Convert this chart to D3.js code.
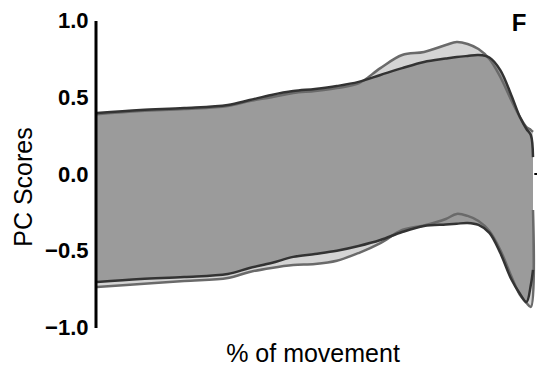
<!DOCTYPE html>
<html lang="en">
<head>
  <meta charset="UTF-8">
  <title>PC Scores F</title>
  <script src="https://d3js.org/d3.v7.min.js"></script>
  <style>
    body { margin: 0; background: #fff; }
    text { font-family: "Liberation Sans", Arial, sans-serif; }
  </style>
</head>
<body>
  <script>
    // % of movement sample points
    var pct = [0, 10, 20, 30, 35, 40, 45, 50, 55, 60, 65, 70, 75, 80, 82.5, 85, 87.5, 90, 92.5, 95, 97, 98.5, 99.5, 100];

    // dark band (upper / lower)
    var darkUpper = [0.397, 0.417, 0.43, 0.45, 0.482, 0.515, 0.54, 0.554, 0.573, 0.60, 0.645, 0.69, 0.73, 0.752, 0.762, 0.769, 0.775, 0.759, 0.677, 0.515, 0.371, 0.293, 0.254, 0.11];
    var darkLower = [-0.704, -0.684, -0.671, -0.651, -0.612, -0.58, -0.54, -0.521, -0.50, -0.469, -0.43, -0.378, -0.339, -0.329, -0.324, -0.319, -0.332, -0.384, -0.515, -0.684, -0.78, -0.834, -0.723, -0.625];

    // light band (upper / lower)
    var lightUpper = [0.39, 0.41, 0.423, 0.443, 0.475, 0.50, 0.528, 0.541, 0.56, 0.59, 0.69, 0.775, 0.795, 0.84, 0.86, 0.847, 0.814, 0.749, 0.632, 0.482, 0.371, 0.306, 0.287, 0.274];
    var lightLower = [-0.736, -0.717, -0.697, -0.678, -0.638, -0.612, -0.593, -0.586, -0.565, -0.515, -0.45, -0.365, -0.335, -0.293, -0.26, -0.273, -0.306, -0.371, -0.495, -0.664, -0.788, -0.84, -0.866, -0.235];

    var yTicks = [1.0, 0.5, 0.0, -0.5, -1.0];

    var W = 537, H = 370;
    var x = d3.scaleLinear().domain([0, 100]).range([97, 533]);
    var y = d3.scaleLinear().domain([-1, 1]).range([327.5, 20.5]);

    var svg = d3.select("body").append("svg")
      .attr("width", W)
      .attr("height", H);

    var curve = d3.curveCatmullRom.alpha(0.5);

    function band(up, lo) {
      return d3.area()
        .x(function (d, i) { return x(pct[i]); })
        .y0(function (d, i) { return y(lo[i]); })
        .y1(function (d, i) { return y(up[i]); })
        .curve(curve)(pct);
    }
    var line = d3.line()
      .x(function (d, i) { return x(pct[i]); })
      .y(function (d) { return y(d); })
      .curve(curve);

    // fills
    svg.append("path").attr("d", band(lightUpper, lightLower)).attr("fill", "#d4d4d4");
    svg.append("path").attr("d", band(darkUpper, darkLower)).attr("fill", "#9b9b9b");

    // outlines
    [lightUpper, lightLower].forEach(function (s) {
      svg.append("path").datum(s).attr("d", line)
        .attr("fill", "none").attr("stroke", "#6a6a6a").attr("stroke-width", 2.5);
    });
    [darkUpper, darkLower].forEach(function (s) {
      svg.append("path").datum(s).attr("d", line)
        .attr("fill", "none").attr("stroke", "#333").attr("stroke-width", 2.5);
    });

    // small zero mark at the right edge
    svg.append("line")
      .attr("x1", x(100.3)).attr("x2", x(101))
      .attr("y1", y(0)).attr("y2", y(0))
      .attr("stroke", "#000").attr("stroke-width", 2);

    // y axis
    var yAxis = svg.append("g")
      .attr("transform", "translate(95.5,0)")
      .call(d3.axisLeft(y).tickValues(yTicks).tickSize(0).tickPadding(7)
        .tickFormat(d3.format(".1f")));
    yAxis.select(".domain").attr("stroke", "#000").attr("stroke-width", 3);
    yAxis.selectAll("text")
      .attr("fill", "#000")
      .style("font-family", "'Liberation Sans', Arial, sans-serif")
      .style("font-size", "22px")
      .style("font-weight", "bold");

    // titles
    svg.append("text")
      .attr("transform", "translate(32,187) rotate(-90)")
      .attr("text-anchor", "middle")
      .style("font-size", "25px")
      .text("PC Scores");

    svg.append("text")
      .attr("x", 313).attr("y", 362)
      .attr("text-anchor", "middle")
      .style("font-size", "25px")
      .text("% of movement");

    svg.append("text")
      .attr("x", 519).attr("y", 31)
      .attr("text-anchor", "middle")
      .style("font-size", "24px")
      .style("font-weight", "bold")
      .text("F");
  </script>
</body>
</html>
